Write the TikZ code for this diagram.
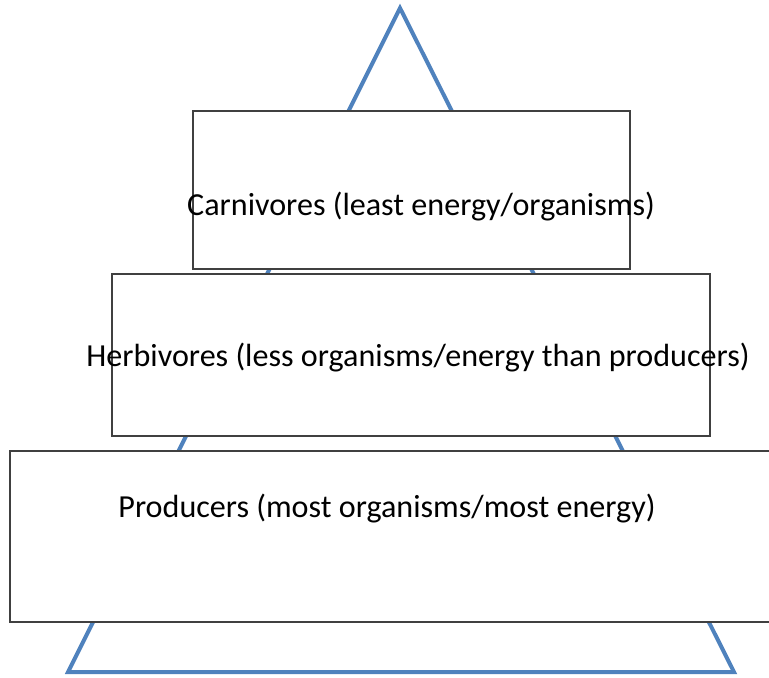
\documentclass[tikz,border=0pt]{standalone}
\usepackage{fontspec}
\setmainfont{Carlito}
\usepackage{tikz}
\usetikzlibrary{shapes}
\pgfdeclarelayer{edgelayer}
\pgfdeclarelayer{nodelayer}
\pgfsetlayers{edgelayer,nodelayer,main}
\tikzstyle{none}=[inner sep=0pt]
\tikzstyle{tier}=[rectangle, draw=boxgray, line width=0.65pt, fill=white, inner sep=0pt]
\tikzstyle{caption}=[inner sep=0pt, anchor=base, font=\fontsize{16.05pt}{19pt}\selectfont]
\definecolor{pyramid}{rgb}{0.31,0.51,0.74}
\definecolor{boxgray}{rgb}{0.25,0.25,0.25}
\begin{document}
\begin{tikzpicture}[x=0.5pt, y=-0.5pt]
	\useasboundingbox (0, 0) rectangle (769, 677);
	\begin{pgfonlayer}{nodelayer}
		\node [style=none] (0) at (400, 8) {};
		\node [style=none] (1) at (68, 672) {};
		\node [style=none] (2) at (734, 672) {};
		\node [style=tier, minimum width=218.5pt, minimum height=79pt] (3) at (411.5, 190) {};
		\node [style=tier, minimum width=299pt, minimum height=81pt] (4) at (411, 355) {};
		\node [style=tier, minimum width=395pt, minimum height=85.5pt] (5) at (405, 536.5) {};
	\end{pgfonlayer}
	\begin{pgfonlayer}{edgelayer}
		\draw [pyramid, line width=2pt, line join=miter] (0.center) to (1.center) to (2.center) -- cycle;
	\end{pgfonlayer}
	\node [style=caption] (6) at (421, 215) {Carnivores (least energy/organisms)};
	\node [style=caption] (7) at (418, 366) {Herbivores (less organisms/energy than producers)};
	\node [style=caption] (8) at (387, 517) {Producers (most organisms/most energy)};
\end{tikzpicture}
\end{document}
